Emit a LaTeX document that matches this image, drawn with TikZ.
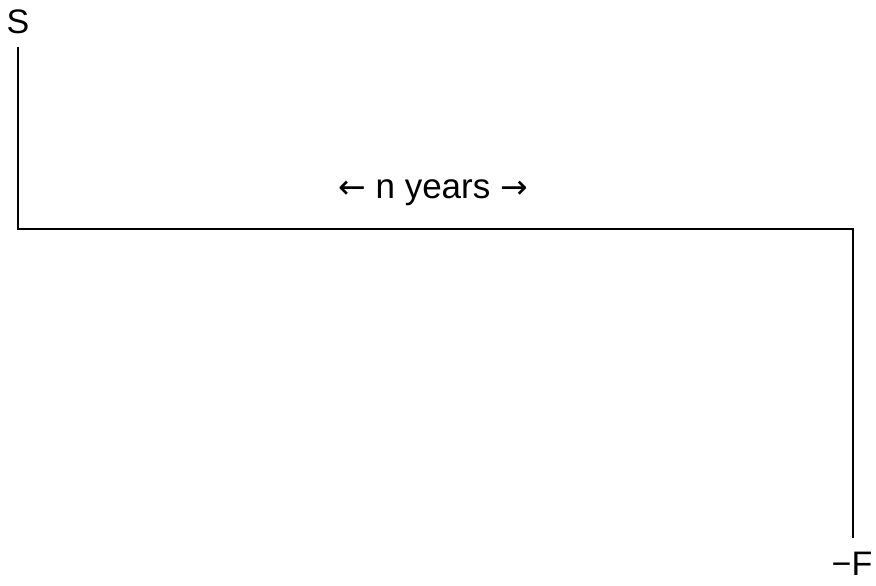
\documentclass[tikz,border=0pt]{standalone}
\usepackage{fontspec}
\setmainfont{Liberation Sans}
\newfontfamily\arrowfont{DejaVu Sans}
\begin{document}
\begin{tikzpicture}[x=1pt,y=1pt,
  lbl/.style={inner sep=0pt,font=\fontsize{34}{40}\selectfont},
  arr/.style={},
  wire/.style={line width=2pt}]
\useasboundingbox (0,0) rectangle (876,586);
\node[lbl] (S) at (18,564) {S};
\node[lbl] (F) at (852,22) {−F};
\node[lbl,font=\fontsize{35}{40}\selectfont] (N) at (433,393) {{\arrowfont\fontsize{33}{38}\selectfont ←} n years {\arrowfont\fontsize{33}{38}\selectfont →}};
\coordinate (a) at (18,539);
\coordinate (b) at (18,357);
\coordinate (c) at (853,357);
\coordinate (d) at (853,48);
\draw[wire] (a) -- (b) -- (c) -- (d);
\end{tikzpicture}
\end{document}
